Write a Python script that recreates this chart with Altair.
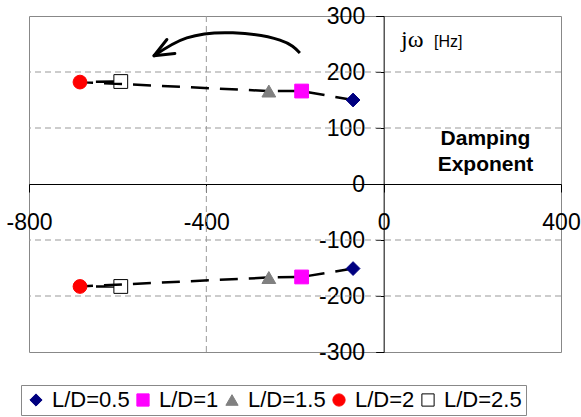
import altair as alt
import pandas as pd

# ---- data ----
ld_labels = ["L/D=0.5", "L/D=1", "L/D=1.5", "L/D=2", "L/D=2.5"]
damping = [-69, -185, -259, -685, -593]
freq_upper = [150, 166, 166, 182, 183]
freq_lower = [-151, -166, -167, -183, -183]

shapes = ["diamond", "square", "triangle-up", "circle", "square"]
fills = ["#000080", "#FF00FF", "#808080", "#FF0000", "transparent"]
strokes = ["#000080", "#FF00FF", "#808080", "#FF0000", "#000000"]

x_ticks = [-800, -400, 0, 400]
y_ticks = [-300, -200, -100, 0, 100, 200, 300]
grid_x = [-400]
grid_y = [-200, -100, 100, 200]

# curved annotation arrow (data units)
arrow_x = [-189, -234, -340, -444, -518]
arrow_y = [234, 257, 270, 261, 229]
barb_x = [-489, -471]
barb_y = [258, 233]
tip_x = -518
tip_y = 229

FONT = "Liberation Sans"

rows = []
for i, lab in enumerate(ld_labels):
    rows.append({"x": damping[i], "y": freq_upper[i], "series": lab, "branch": "upper", "order": i})
    rows.append({"x": damping[i], "y": freq_lower[i], "series": lab, "branch": "lower", "order": i})
df = pd.DataFrame(rows)

xscale = alt.Scale(domain=[-800, 400], nice=False, zero=False)
yscale = alt.Scale(domain=[-300, 300], nice=False, zero=False)

xaxis = alt.Axis(values=x_ticks, offset=-168, orient="bottom", title=None, grid=False,
                 labelFontSize=23, labelFont=FONT, labelColor="black", labelPadding=19,
                 tickSize=8, tickColor="black", domainColor="black", labelFlush=False,
                 labelOverlap=False, labelExpr="'' + datum.value")
yaxis = alt.Axis(values=y_ticks, offset=-354.67, orient="left", title=None, grid=False,
                 labelFontSize=23, labelFont=FONT, labelColor="black", labelPadding=11,
                 tickSize=8, tickColor="black", domainColor="black", labelOverlap=False,
                 labelExpr="'' + datum.value")

X = alt.X("x:Q", scale=xscale, axis=xaxis)
Y = alt.Y("y:Q", scale=yscale, axis=yaxis)

grid_v = alt.Chart(pd.DataFrame({"x": grid_x})).mark_rule(
    color="#999999", strokeDash=[6, 4], strokeWidth=1).encode(x=X)
grid_h = alt.Chart(pd.DataFrame({"y": grid_y})).mark_rule(
    color="#999999", strokeDash=[6, 4], strokeWidth=1).encode(y=Y)

lines = alt.Chart(df).mark_line(color="black", strokeWidth=2.5, strokeDash=[18, 11]).encode(
    x=X, y=Y, detail="branch:N", order="order:Q")

points = alt.Chart(df).mark_point(filled=True, size=190, opacity=1, strokeWidth=1).encode(
    x=X, y=Y,
    shape=alt.Shape("series:N", scale=alt.Scale(domain=ld_labels, range=shapes),
                    legend=alt.Legend(title=None)),
    fill=alt.Fill("series:N", scale=alt.Scale(domain=ld_labels, range=fills),
                  legend=alt.Legend(title=None)),
    stroke=alt.Stroke("series:N", scale=alt.Scale(domain=ld_labels, range=strokes),
                      legend=alt.Legend(title=None)),
)

arrow = alt.Chart(pd.DataFrame({"x": arrow_x, "y": arrow_y})).mark_line(
    color="black", strokeWidth=3, interpolate="natural").encode(x=X, y=Y)
barbs = alt.Chart(pd.DataFrame({"x": [tip_x, tip_x], "y": [tip_y, tip_y],
                                "x2": barb_x, "y2": barb_y})).mark_rule(
    color="black", strokeWidth=3, strokeCap="round").encode(x=X, y=Y, x2="x2:Q", y2="y2:Q")

jw = alt.Chart(pd.DataFrame({"a": [0]})).mark_text(
    text="j\u03c9", font="Liberation Serif", fontSize=24, align="left", baseline="alphabetic",
    color="black").encode(x=alt.value(372), y=alt.value(31))
hz = alt.Chart(pd.DataFrame({"a": [0]})).mark_text(
    text="[Hz]", font=FONT, fontSize=16, align="left", baseline="alphabetic",
    color="black").encode(x=alt.value(405), y=alt.value(31))
damp = alt.Chart(pd.DataFrame({"a": [0]})).mark_text(
    text=["Damping", "Exponent"], font=FONT, fontSize=21, fontWeight="bold", align="center",
    baseline="alphabetic", lineHeight=26, color="black").encode(x=alt.value(456.5), y=alt.value(129))

chart = alt.layer(grid_v, grid_h, lines, points, arrow, barbs, jw, hz, damp).properties(
    width=532, height=336,
    autosize=alt.AutoSizeParams(type="none"),
    padding={"left": 29, "top": 16, "right": 20, "bottom": 65},
).configure_view(stroke="#888888", strokeWidth=1).configure_legend(
    orient="none", legendX=-8, legendY=369, direction="horizontal",
    strokeColor="#888888", fillColor="white", padding=4, labelFontSize=22, labelFont=FONT,
    labelColor="black", symbolSize=150, columnPadding=2, labelOffset=5, symbolStrokeWidth=1,
)

chart.save("out.html", embed_options={"renderer": "svg", "actions": False})
